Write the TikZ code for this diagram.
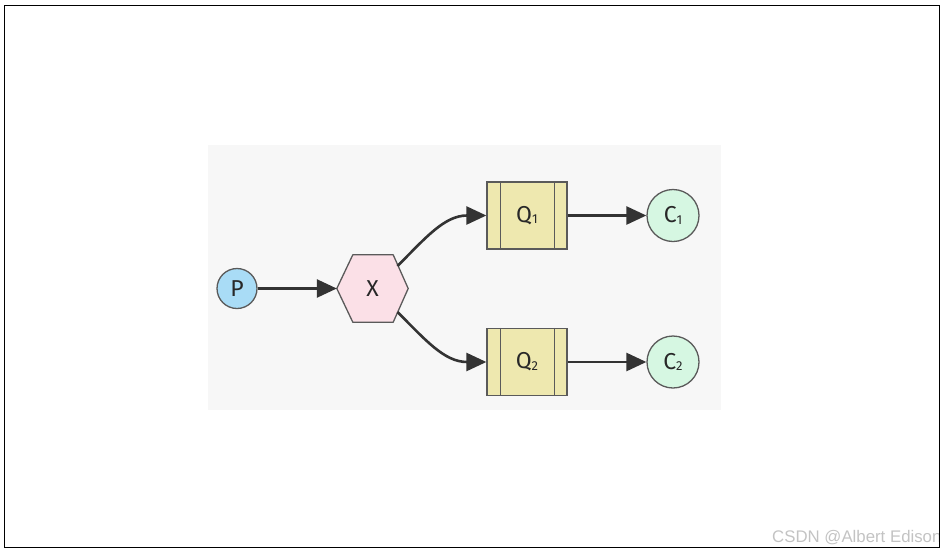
\documentclass[tikz,border=0pt]{standalone}
\usepackage{fontspec}
\setmainfont{Fira Sans}
\newfontfamily\wmfont{Liberation Sans}
\usetikzlibrary{arrows.meta,calc}
\pgfdeclarelayer{bg}
\pgfsetlayers{bg,main}
\definecolor{bgc}{RGB}{247,247,247}
\definecolor{pfill}{RGB}{169,220,246}
\definecolor{xfill}{RGB}{251,224,231}
\definecolor{qfill}{RGB}{238,232,175}
\definecolor{cfill}{RGB}{214,247,226}
\definecolor{borderc}{RGB}{90,90,90}
\definecolor{edgec}{RGB}{51,51,51}
\definecolor{txtc}{RGB}{40,40,40}
\definecolor{wmc}{RGB}{195,195,195}
\newcommand\lowsub[1]{\raisebox{-1.2pt}{\fontsize{13}{13}\selectfont #1}}
\begin{document}
\begin{tikzpicture}[x=1pt,y=-1pt,
  lbl/.style={font=\fontsize{23}{27}\selectfont, text=txtc},
  nodeborder/.style={draw=borderc, line width=1.3pt},
  circnode/.style={circle, nodeborder, lbl, inner sep=0pt},
  qnode/.style={rectangle, nodeborder, fill=qfill, lbl, inner sep=0pt, minimum width=80pt, minimum height=67pt},
  edge/.style={draw=edgec, line width=2.6pt, -{Triangle[length=20pt,width=18pt]}}]
\useasboundingbox (0,0) rectangle (944,552);
\begin{pgfonlayer}{bg}
\fill[bgc] (208,145) rectangle (721,410);
\end{pgfonlayer}
% nodes
\node[circnode, fill=pfill, minimum size=40pt] (P) at (237,288.5) {P};
\node[lbl, inner sep=0pt, minimum width=71pt, minimum height=67pt] (X) at (372.5,288.5) {X};
\begin{pgfonlayer}{bg}
\draw[nodeborder, fill=xfill, line join=round] (X.west) -- ($(X.north west)+(16,0)$) -- ($(X.north east)+(-15,0)$) -- (X.east) -- ($(X.south east)+(-15,0)$) -- ($(X.south west)+(16,0)$) -- cycle;
\end{pgfonlayer}
\node[qnode] (Q1) at (527,215.5) {Q\lowsub{1}};
\node[qnode] (Q2) at (527,362) {Q\lowsub{2}};
\foreach \q in {Q1,Q2}{
  \draw[nodeborder] ($(\q.north west)+(14,0)$) -- ($(\q.south west)+(14,0)$);
  \draw[nodeborder] ($(\q.north east)+(-13,0)$) -- ($(\q.south east)+(-13,0)$);
}
\node[circnode, fill=cfill, minimum size=52pt] (C1) at (673,215.5) {C\lowsub{1}};
\node[circnode, fill=cfill, minimum size=52pt] (C2) at (673,362) {C\lowsub{2}};
% connector end points on the hexagon
\coordinate (Xa) at ($(X.center)+(25,-22.5)$);
\coordinate (Xb) at ($(X.center)+(25,23.5)$);
% connectors
\draw[edge] (P) -- (X.west);
\draw[edge] (Xa) .. controls ($(Xa)+(28,-28)$) and ($(Q1.west)+(-42,0)$) .. (Q1.west);
\draw[edge] (Xb) .. controls ($(Xb)+(28,28)$) and ($(Q2.west)+(-42,0)$) .. (Q2.west);
\draw[edge] (Q1.east) -- (C1.west);
\draw[edge] (Q2.east) -- (C2.west);
% watermark and frame
\begin{scope}
\clip (4.5,5.5) rectangle (939,547);
\node[anchor=base west, inner sep=0pt, text=wmc, font=\wmfont\fontsize{16.8}{18}\selectfont] (wm) at (772,542.5) {CSDN @Albert Edison};
\end{scope}
\draw[black, line width=1pt] (4.5,5.5) rectangle (939,547);
\end{tikzpicture}
\end{document}
